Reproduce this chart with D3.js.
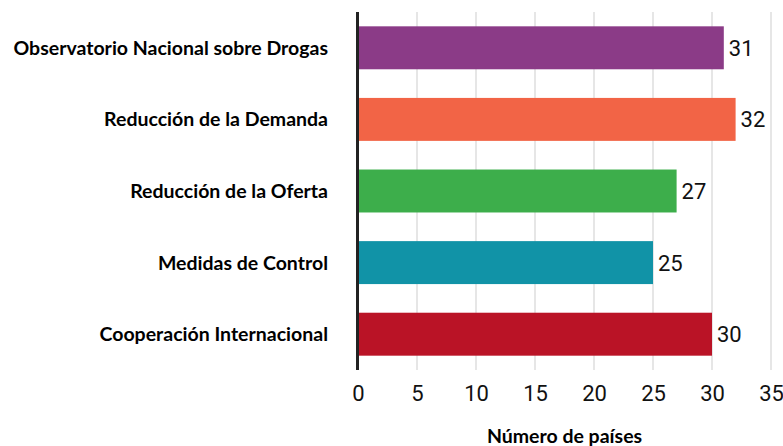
<!DOCTYPE html>
<html>
<head>
<meta charset="utf-8">
<script src="https://cdn.jsdelivr.net/npm/d3@7"></script>
<style>
  body { margin: 0; background: #fff; }
</style>
</head>
<body>
<svg width="783" height="446"></svg>
<script>
const categories = ["Observatorio Nacional sobre Drogas", "Reducción de la Demanda", "Reducción de la Oferta", "Medidas de Control", "Cooperación Internacional"];
const values = [31, 32, 27, 25, 30];
const colors = ["#8B3B87", "#F26446", "#3DAE4B", "#1193A7", "#BA1326"];
const ticks = [0, 5, 10, 15, 20, 25, 30, 35];

const svg = d3.select("svg");

let x = d3.scaleLinear().domain([0, 35]).range([358, 771]);
let y = d3.scaleBand().domain(categories).range([12, 370])
	.paddingInner(0.4).paddingOuter(0.2);

// gridlines
svg.append("g").selectAll("line")
	.data(ticks.slice(1))
	.enter().append("line")
	.attr("x1", d => x(d)).attr("x2", d => x(d))
	.attr("y1", 12).attr("y2", 370)
	.attr("stroke", "#dedede").attr("stroke-width", 1.5);

// bars
svg.append("g").selectAll("rect")
	.data(values)
	.enter().append("rect")
	.attr("x", x(0))
	.attr("y", (d, i) => y(categories[i]))
	.attr("width", d => x(d) - x(0))
	.attr("height", y.bandwidth())
	.attr("fill", (d, i) => colors[i]);

// value labels
svg.append("g").selectAll("text")
	.data(values)
	.enter().append("text")
	.attr("x", d => x(d) + 5)
	.attr("y", (d, i) => y(categories[i]) + y.bandwidth() / 2)
	.attr("dy", "0.36em")
	.style("font-family", "Roboto")
	.style("font-size", "22px")
	.attr("fill", "#111")
	.text(d => d);

// category labels
svg.append("g").selectAll("text")
	.data(categories)
	.enter().append("text")
	.attr("x", 328)
	.attr("y", d => y(d) + y.bandwidth() / 2)
	.attr("dy", "0.36em")
	.attr("text-anchor", "end")
	.style("font-family", "Lato")
	.style("font-weight", "bold")
	.style("font-size", "19.5px")
	.attr("fill", "#000")
	.text(d => d);

// y axis line
svg.append("line")
	.attr("x1", 357.5).attr("x2", 357.5)
	.attr("y1", 12).attr("y2", 370)
	.attr("stroke", "#222").attr("stroke-width", 3);

// x tick labels
let xAxis = d3.axisBottom(x).tickValues(ticks).tickSize(0).tickPadding(0);
let gx = svg.append("g").attr("transform", "translate(0,372)").call(xAxis);
gx.select(".domain").remove();
gx.selectAll("text")
	.attr("y", 21)
	.attr("dy", "0.36em")
	.style("font-family", "Roboto")
	.style("font-size", "22px")
	.attr("fill", "#111");

// x axis title
svg.append("text")
	.attr("x", (x(0) + x(35)) / 2)
	.attr("y", 443)
	.attr("text-anchor", "middle")
	.style("font-family", "Lato")
	.style("font-weight", "bold")
	.style("font-size", "19.5px")
	.attr("fill", "#000")
	.text("Número de países");
</script>
</body>
</html>
